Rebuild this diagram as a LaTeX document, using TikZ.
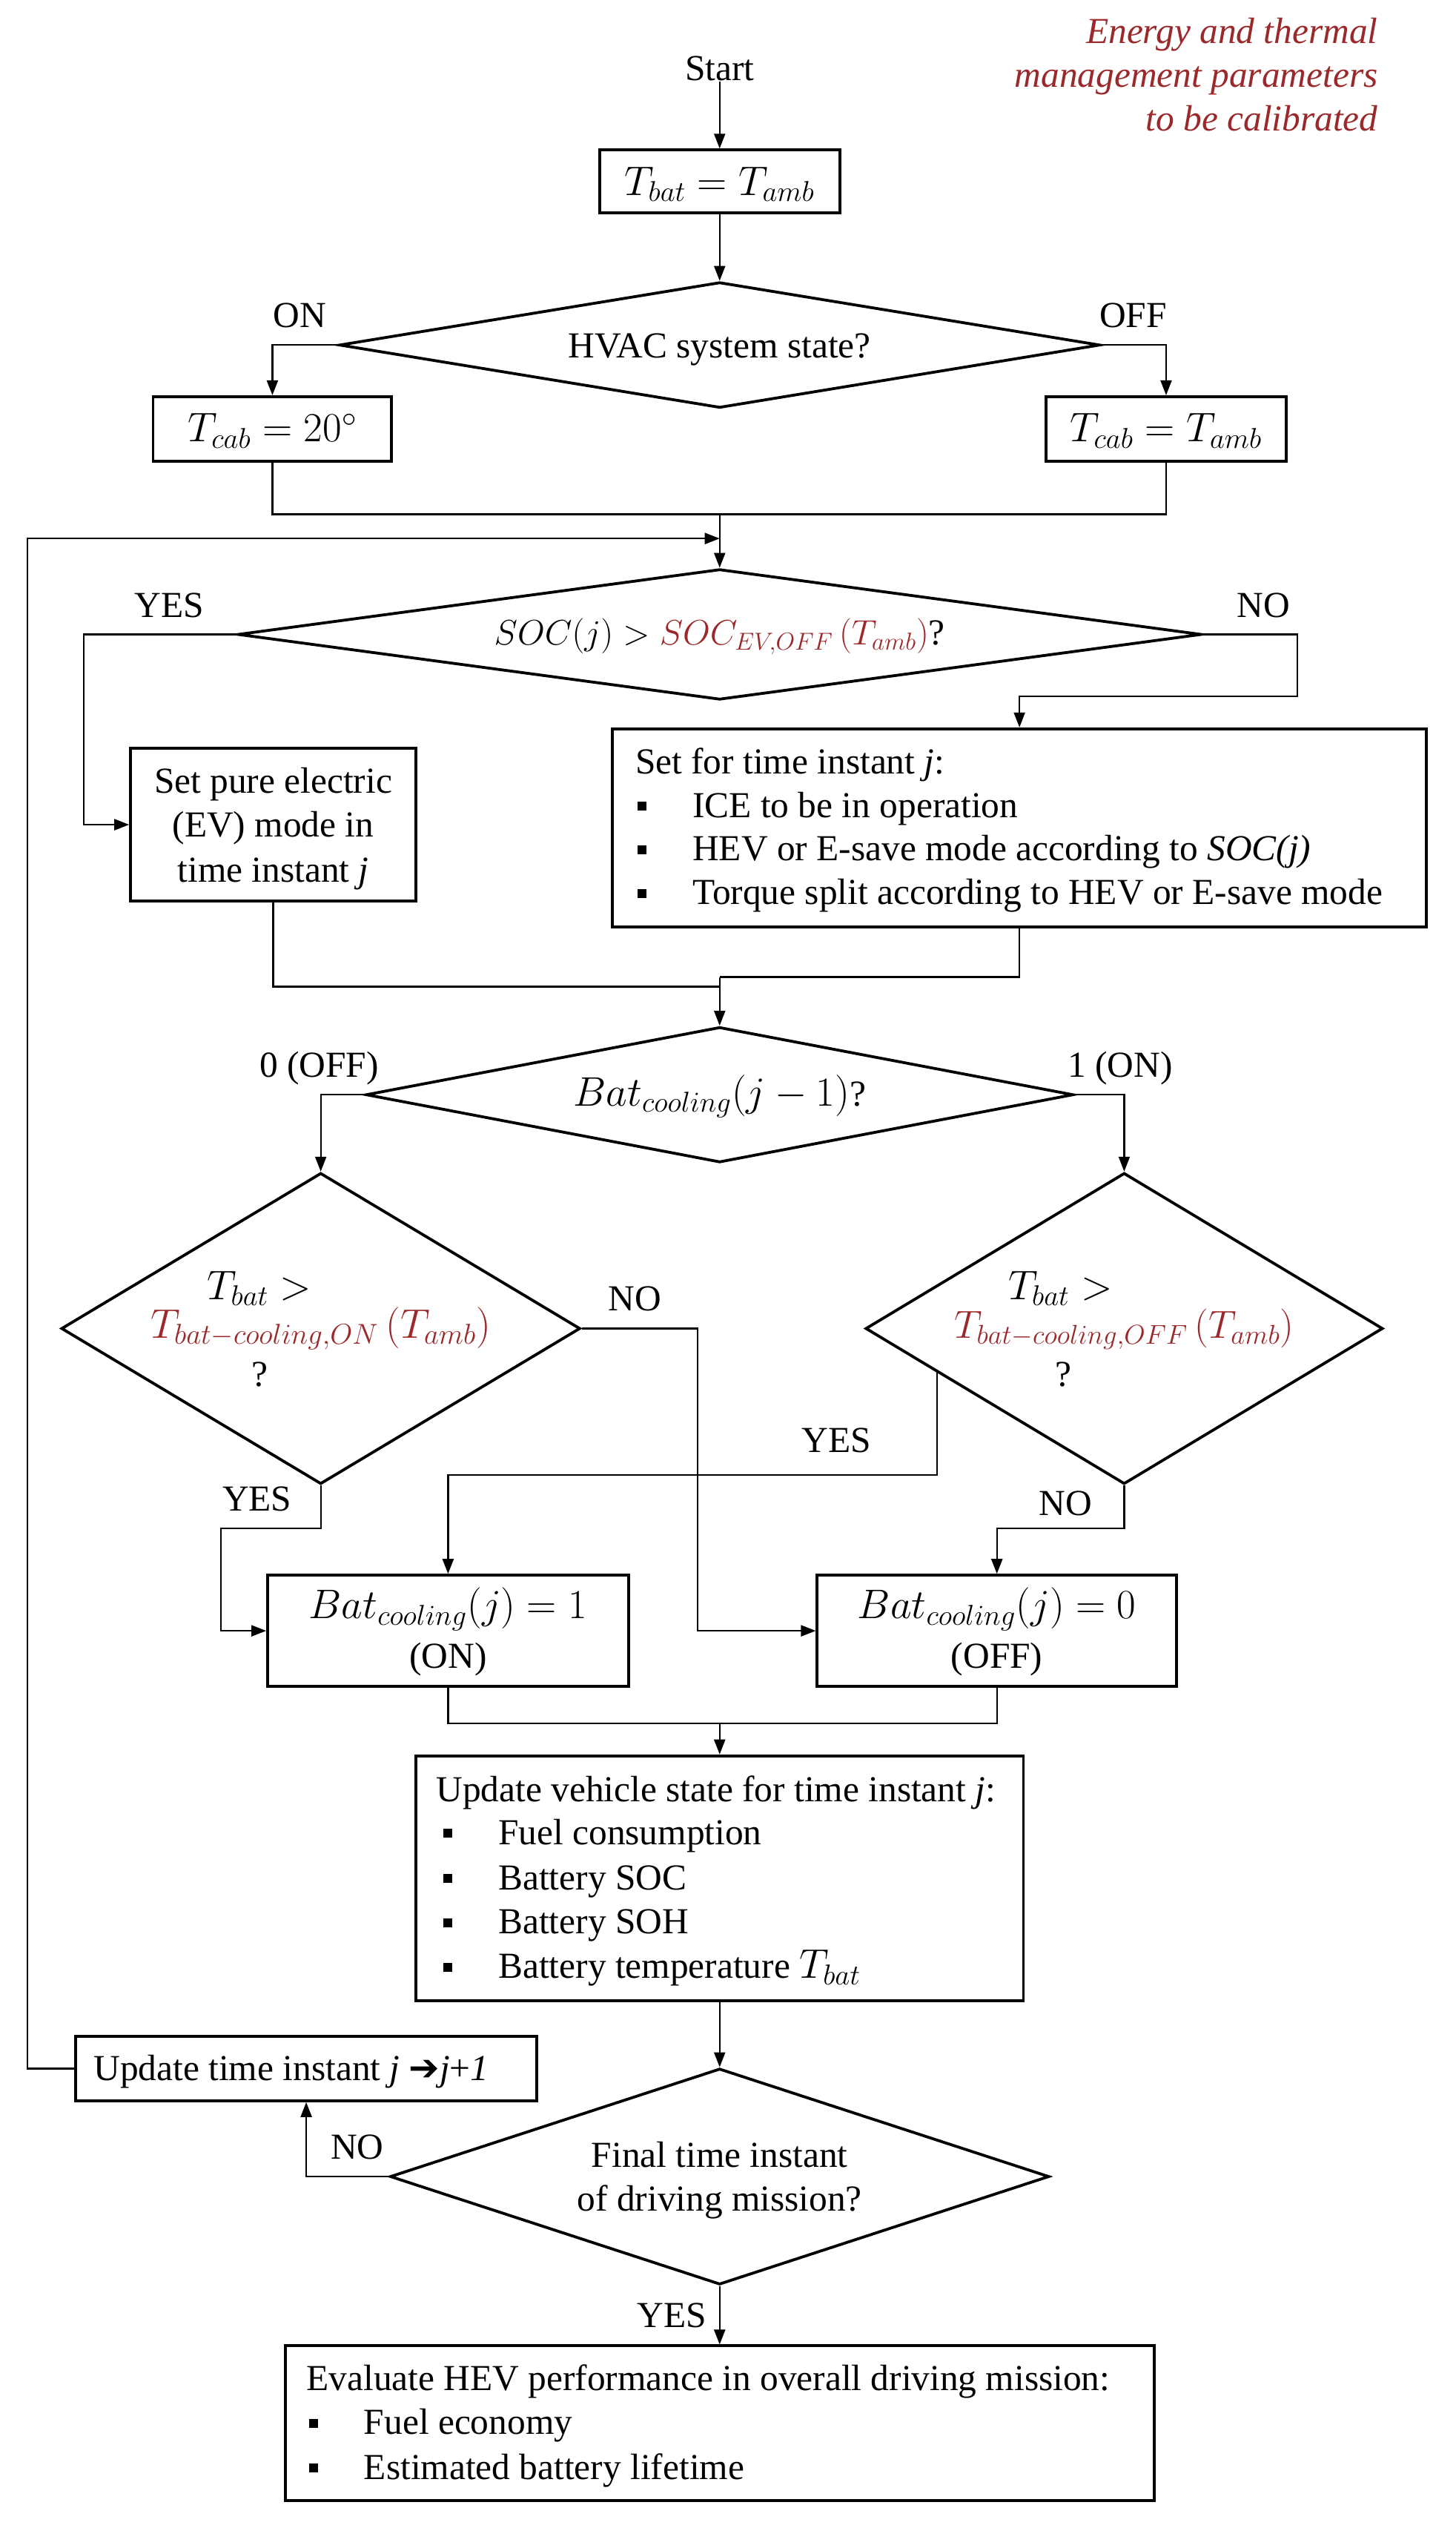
\documentclass[tikz,border=0pt]{standalone}
\usepackage{graphicx}
\usepackage{fontspec}
\setmainfont{Liberation Serif}
\newfontfamily\symfont{DejaVu Sans}
\usetikzlibrary{shapes.geometric,arrows.meta,fit,calc}
\definecolor{tred}{RGB}{155,40,42}
\newcommand{\bul}{\makebox[37pt][l]{\rule[4.5pt]{6pt}{6pt}}}
\newcommand{\mth}[1]{\scalebox{1.12}{$#1$}}
\begin{document}
\begin{tikzpicture}[x=1.087pt,y=-1.087pt,
  every node/.style={font=\fontsize{24.7pt}{30pt}\selectfont},
  box/.style={draw, line width=1.9pt, inner sep=0pt},
  dia/.style 2 args={draw, diamond, line width=1.9pt, inner sep=0pt, minimum width={#1*1.087pt}, minimum height={#2*1.087pt}},
  conn/.style={line width=1.1pt},
  arr/.style={conn, -{Triangle[length=10pt,width=7.5pt]}},
  lbl/.style={anchor=base, inner sep=0pt},
  lbw/.style={anchor=base west, inner sep=0pt},
  note/.style={anchor=base east, inner sep=0pt, text=tred, font=\fontsize{24.7pt}{30pt}\selectfont\itshape}]
\useasboundingbox (0,0) rectangle (903,1568);

% note
\node[note] (n1) at (855,27) {Energy and thermal};
\node[note] (n2) at (855,54) {management parameters};
\node[note] (n3) at (855,81) {to be calibrated};

% start
\node[lbl] (start) at (446.5,50) {Start};
\node[box, fit={(372,93) (521,132)}] (b0) {};
\node[lbl] (tb0) at (446.5,121) {\mth{T_{bat} = T_{amb}}};
\draw[arr] (start.south) -- (b0.north);

% HVAC
\node[dia={472}{78}] (dhvac) at (446.5,214) {};
\node[lbl] (thvac) at (446.5,222) {HVAC system state?};
\draw[arr] (b0.south) -- (dhvac.north);
\node[lbl] (lon) at (186,203) {ON};
\node[lbl] (loff) at (703,203) {OFF};
\node[box, fit={(95,246) (243,286)}] (bc1) {};
\node[box, fit={(649,246) (798,286)}] (bc2) {};
\node[lbl] (tc1) at (169,274) {\mth{T_{cab} = 20^\circ}};
\node[lbl] (tc2) at (723.5,274) {\mth{T_{cab} = T_{amb}}};
\draw[arr] (dhvac.west) -| (bc1.north);
\draw[arr] (dhvac.east) -| (bc2.north);
\coordinate (m1) at (446.5,319);
\draw[conn] (bc1.south) |- (m1) -| (bc2.south);

% SOC
\node[dia={598}{81}] (dsoc) at (446.5,393.5) {};
\draw[arr] (m1) -- (dsoc.north);
\node[lbl] (tsoc) at (446.5,400) {\scalebox{0.955}{$SOC(j) > \textcolor{tred}{SOC_{EV,OFF}\left(T_{amb}\right)}$}?};
\node[lbl] (lyes1) at (105,383) {YES};
\node[lbl] (lno1) at (784,383) {NO};

\node[box, fit={(81,464) (258,559)}] (bev) {};
\node[lbl] (ev1) at (169.5,492) {Set pure electric};
\node[lbl] (ev2) at (169.5,519) {(EV) mode in};
\node[lbl] (ev3) at (169.5,547) {time instant \textit{j}};

\node[box, fit={(380,452) (885,575)}] (bset) {};
\node[lbw] (s0) at (394,480) {Set for time instant \textit{j}:};
\node[lbw] (s1) at (395.5,507) {\bul ICE to be in operation};
\node[lbw] (s2) at (395.5,534) {\bul HEV or E-save mode according to \textit{SOC(j)}};
\node[lbw] (s3) at (395.5,561) {\bul Torque split according to HEV or E-save mode};

\coordinate (ya) at (52,393.5);
\draw[arr] (dsoc.west) -- (ya) |- (bev.west);
\coordinate (na) at (805,432);
\draw[arr] (dsoc.east) -| (na) -| (bset.north);

\coordinate (mA) at (446.5,612);
\coordinate (mB) at (446.5,606);
\draw[conn] (bev.south) |- (mA);
\draw[conn] (bset.south) |- (mB);

% Bat cooling
\node[dia={439}{84}] (dbat) at (446.5,679) {};
\draw[arr] (mB) -- (dbat.north);
\node[lbl] (tbat) at (446.5,686) {\mth{Bat_{cooling}(j-1)}?};
\node[lbl] (l0off) at (198,668) {0 (OFF)};
\node[lbl] (l1on) at (695,668) {1 (ON)};

\node[dia={322}{193}] (dl) at (199,824) {};
\node[dia={321}{193}] (dr) at (697.5,824) {};
\draw[arr] (dbat.west) -| (dl.north);
\draw[arr] (dbat.east) -| (dr.north);

\node[lbl] (dl1) at (161,806) {\mth{T_{bat} >}};
\node[lbl] (dl2) at (199,830) {\color{tred}\mth{T_{bat-cooling,ON}\left(T_{amb}\right)}};
\node[lbl] (dl3) at (161,860) {?};
\node[lbl] (dr1) at (658,806) {\mth{T_{bat} >}};
\node[lbl] (dr2) at (697.5,830) {\color{tred}\scalebox{1.06}{$T_{bat-cooling,OFF}\left(T_{amb}\right)$}};
\node[lbl] (dr3) at (660,860) {?};

\node[box, fit={(166,977) (390,1046)}] (bon) {};
\node[box, fit={(507,977) (730,1046)}] (boff) {};
\node[lbl] (on1) at (278,1004) {\mth{Bat_{cooling}(j) = 1}};
\node[lbl] (on2) at (278,1034.5) {(ON)};
\node[lbl] (off1) at (618.5,1004) {\mth{Bat_{cooling}(j) = 0}};
\node[lbl] (off2) at (618.5,1034.5) {(OFF)};

\coordinate (nb) at (433,824);
\draw[arr] (dl.east) -- (nb) |- (boff.west);
\node[lbl] (lno2) at (394,813) {NO};
\coordinate (yb) at (137,948);
\draw[arr] (dl.south) |- (yb) |- (bon.west);
\node[lbl] (lyes2) at (159.5,937) {YES};
\coordinate (ys) at ($(dr.west)!0.28!(dr.south)$);
\coordinate (yc) at (278,915);
\draw[arr] (ys) |- (yc) -- (bon.north);
\node[lbl] (lyes3) at (519,901) {YES};
\coordinate (nc) at (618.5,948);
\draw[arr] (dr.south) |- (nc) -- (boff.north);
\node[lbl] (lno3) at (661,940) {NO};

% update
\coordinate (mC) at (446.5,1069);
\draw[conn] (bon.south) |- (mC) -| (boff.south);
\node[box, fit={(258,1089) (635,1241)}] (bupd) {};
\draw[arr] (mC) -- (bupd.north);
\node[lbw] (u0) at (270.5,1117.5) {Update vehicle state for time instant \textit{j}:};
\node[lbw] (u1) at (275,1144) {\bul Fuel consumption};
\node[lbw] (u2) at (275,1172) {\bul Battery SOC};
\node[lbw] (u3) at (275,1199.5) {\bul Battery SOH};
\node[lbw] (u4) at (275,1227) {\bul Battery temperature \mth{T_{bat}}};

% final
\node[dia={409}{134}] (dfin) at (446.5,1350) {};
\draw[arr] (bupd.south) -- (dfin.north);
\node[lbl] (f1) at (446.5,1344) {Final time instant};
\node[lbl] (f2) at (446.5,1371.5) {of driving mission?};

\node[box, fit={(47,1263) (333,1303)}] (btime) {};
\node[lbw] (tt) at (58,1290.5) {Update time instant \textit{j} {\symfont ➔}\textit{j}+\textit{1}};
\draw[arr] (dfin.west) -| (btime.south);
\node[lbl] (lno4) at (221.6,1339) {NO};
\coordinate (lp) at (17,334);
\coordinate (m2) at (446.5,334);
\draw[arr] (btime.west) -| (lp) -- (m2);

\node[box, fit={(177,1455) (716,1551)}] (bfin) {};
\draw[arr] (dfin.south) -- (bfin.north);
\node[lbl] (lyes4) at (417,1443.5) {YES};
\node[lbw] (e0) at (190,1482.5) {Evaluate HEV performance in overall driving mission:};
\node[lbw] (e1) at (191.6,1510) {\bul Fuel economy};
\node[lbw] (e2) at (191.6,1537.8) {\bul Estimated battery lifetime};
\end{tikzpicture}
\end{document}
